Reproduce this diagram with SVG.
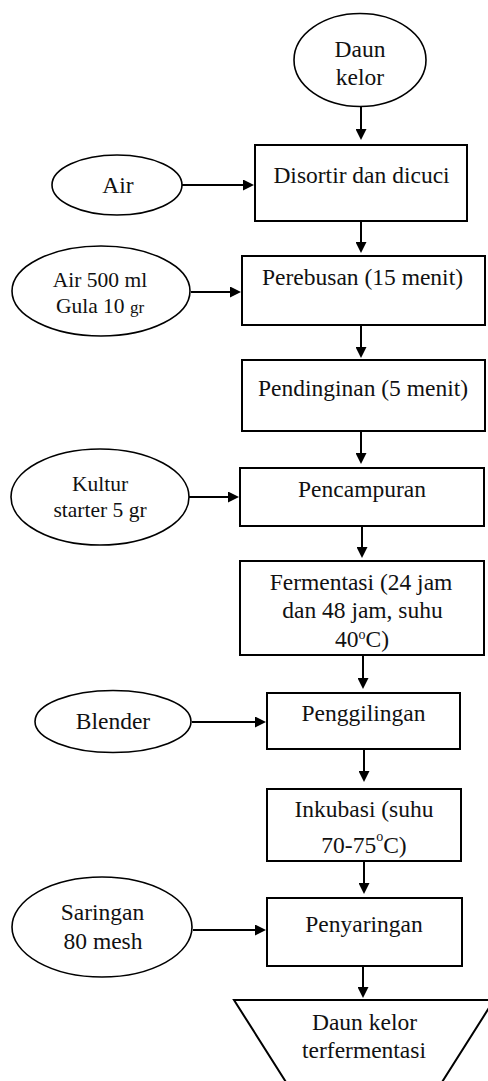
<svg xmlns="http://www.w3.org/2000/svg" width="488" height="1081" viewBox="0 0 488 1081">
<style>
.box{fill:#fff;stroke:#000;stroke-width:2}
.ell{fill:#fff;stroke:#000;stroke-width:1.6}
.t{font-family:"Liberation Serif","Times New Roman",serif;font-size:23.5px;fill:#111;text-anchor:middle}
.s{font-size:21.5px}
.c{stroke:#000;stroke-width:2;fill:none;marker-end:url(#ah)}
</style>
<defs>
<marker id="ah" viewBox="0 0 11 11" refX="0" refY="5.5" markerWidth="11" markerHeight="11" markerUnits="userSpaceOnUse" orient="auto">
<path d="M0,0 L11,5.5 L0,11 z" fill="#000"/>
</marker>
</defs>
<rect width="488" height="1081" fill="#fff"/>
<g id="connectors">
<line class="c" x1="361" y1="107" x2="361" y2="129"/>
<line class="c" x1="182" y1="185" x2="243" y2="185"/>
<line class="c" x1="361" y1="222" x2="361" y2="242"/>
<line class="c" x1="191" y1="292" x2="230" y2="292"/>
<line class="c" x1="361" y1="326" x2="361" y2="347"/>
<line class="c" x1="361" y1="432" x2="361" y2="453"/>
<line class="c" x1="189" y1="497" x2="228" y2="497"/>
<line class="c" x1="362" y1="527" x2="362" y2="547"/>
<line class="c" x1="363" y1="656" x2="363" y2="678"/>
<line class="c" x1="192" y1="722" x2="255" y2="722"/>
<line class="c" x1="364" y1="750" x2="364" y2="771"/>
<line class="c" x1="364" y1="862" x2="364" y2="883"/>
<line class="c" x1="193" y1="930" x2="255" y2="930"/>
<line class="c" x1="363" y1="967" x2="363" y2="987"/>
</g>
<g id="daun-kelor">
<ellipse class="ell" cx="360" cy="60" rx="66" ry="46.5"/>
<text class="t" x="360" y="57">Daun</text>
<text class="t" x="360" y="85">kelor</text>
</g>
<g id="air">
<ellipse class="ell" cx="117" cy="185" rx="65" ry="30"/>
<text class="t" x="118" y="193">Air</text>
</g>
<g id="disortir">
<rect class="box" x="255" y="145" width="212" height="76"/>
<text class="t" x="361.5" y="183">Disortir dan dicuci</text>
</g>
<g id="air-gula">
<ellipse class="ell" cx="101" cy="291" rx="89" ry="45"/>
<text class="t s" x="100" y="287">Air 500 ml</text>
<text class="t s" x="100" y="313">Gula 10 <tspan font-size="17">gr</tspan></text>
</g>
<g id="perebusan">
<rect class="box" x="242" y="256" width="243" height="69"/>
<text class="t" x="362.5" y="285">Perebusan (15 menit)</text>
</g>
<g id="pendinginan">
<rect class="box" x="242" y="360" width="243" height="71"/>
<text class="t" x="363" y="396">Pendinginan (5 menit)</text>
</g>
<g id="kultur">
<ellipse class="ell" cx="100" cy="497" rx="89" ry="48"/>
<text class="t s" x="100" y="491">Kultur</text>
<text class="t s" x="100" y="517">starter 5 gr</text>
</g>
<g id="pencampuran">
<rect class="box" x="240" y="468" width="244" height="58"/>
<text class="t" x="362" y="497">Pencampuran</text>
</g>
<g id="fermentasi">
<rect class="box" x="240" y="561" width="244" height="94"/>
<text class="t" x="361" y="590">Fermentasi (24 jam</text>
<text class="t" x="362.5" y="618">dan 48 jam, suhu</text>
<text class="t" x="362" y="647">40<tspan font-size="14" dy="-8">o</tspan><tspan dy="8">C)</tspan></text>
</g>
<g id="blender">
<ellipse class="ell" cx="113" cy="721.5" rx="78" ry="31"/>
<text class="t" x="113" y="729">Blender</text>
</g>
<g id="penggilingan">
<rect class="box" x="267" y="693" width="193" height="56"/>
<text class="t" x="363.5" y="721">Penggilingan</text>
</g>
<g id="inkubasi">
<rect class="box" x="267" y="789" width="194" height="72"/>
<text class="t" x="364" y="817">Inkubasi (suhu</text>
<text class="t" x="364" y="853">70-75<tspan font-size="14" dy="-12">o</tspan><tspan dy="12">C)</tspan></text>
</g>
<g id="saringan">
<ellipse class="ell" cx="102" cy="927" rx="90" ry="50"/>
<text class="t" x="102.5" y="920">Saringan</text>
<text class="t" x="103" y="949">80 mesh</text>
</g>
<g id="penyaringan">
<rect class="box" x="267" y="898" width="195" height="68"/>
<text class="t" x="364" y="932">Penyaringan</text>
</g>
<g id="hasil">
<polygon class="box" points="234,1000 494,1000 437,1090 291,1090"/>
<text class="t" x="364.5" y="1030">Daun kelor</text>
<text class="t" x="364" y="1058">terfermentasi</text>
</g>
</svg>
